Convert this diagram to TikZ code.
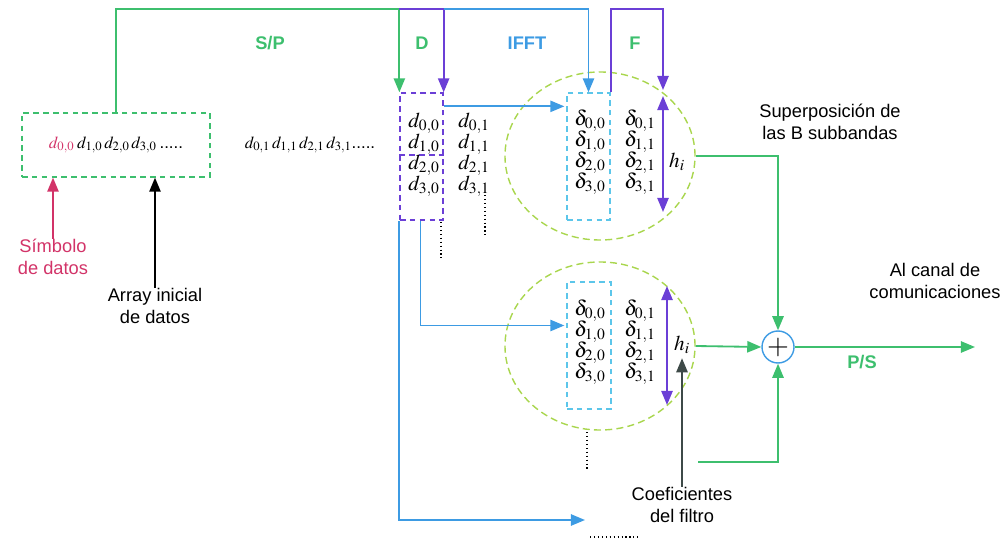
\documentclass[tikz,border=0pt]{standalone}
\usepackage{mathptmx}
\usepackage{fontspec}
\setmainfont{Liberation Sans}
\usetikzlibrary{arrows.meta, positioning, shapes.geometric, calc}

\definecolor{spgreen}{HTML}{3DBF6E}
\definecolor{dpurple}{HTML}{6B3FD6}
\definecolor{ifftblue}{HTML}{3D9BE3}
\definecolor{boxcyan}{HTML}{5CC6EA}
\definecolor{ringlime}{HTML}{A9D64E}
\definecolor{symred}{HTML}{D23368}
\definecolor{coefgray}{HTML}{3E4A48}

\newcommand{\tightrows}{\lineskiplimit=-6pt\relax\lineskip=0pt\relax}

\tikzset{
  tip/.style={-{Triangle[length=10pt,width=8pt]}},
  twotip/.style={{Triangle[length=10pt,width=8pt]}-{Triangle[length=10pt,width=8pt]}},
  spline/.style={draw=spgreen, line width=1.3pt},
  dline/.style={draw=dpurple, line width=1.3pt},
  bline/.style={draw=ifftblue, line width=1.3pt},
  dashbox/.style={rectangle, inner sep=0pt, line width=0.9pt, dash pattern=on 4pt off 3pt},
  ring/.style={ellipse, draw=ringlime, line width=1pt, dash pattern=on 5pt off 3pt,
    minimum width=4.75cm, minimum height=4.2cm, inner sep=0pt},
  col/.style={align=center, inner sep=0pt, font=\fontsize{15}{15}\selectfont\tightrows},
  lbl/.style={align=center, inner sep=0pt, font=\fontsize{13}{16}\selectfont},
  stage/.style={inner sep=0pt, font=\fontsize{13}{16}\selectfont\bfseries},
  dots/.style={draw=black, line width=0.8pt, dotted},
}

\begin{document}
\begin{tikzpicture}[x=0.025cm, y=-0.025cm]
  \useasboundingbox (0,0) rectangle (1003,543);
  \coordinate (top) at (0,9);

  % input arrays
  \node[dashbox, draw=spgreen, minimum width=4.7cm, minimum height=1.6cm] (ini) at (116,145) {};
  \node[inner sep=0pt, font=\fontsize{12}{14}\selectfont] (seq0) at (ini.center)
    {\textcolor{symred}{$d_{0,0}$}\,$d_{1,0}\,d_{2,0}\,d_{3,0}$\,.....};
  \node[inner sep=0pt, font=\fontsize{12}{14}\selectfont] (seq1) at (310,145)
    {$d_{0,1}\,d_{1,1}\,d_{2,1}\,d_{3,1}$.....};

  % D block
  \node[dashbox, draw=dpurple, minimum width=1.075cm, minimum height=3.175cm] (dbx) at (421.5,156.5) {};
  \draw[dpurple, line width=0.9pt, dash pattern=on 4pt off 3pt] (dbx.west |- 0,155) -- (dbx.east |- 0,155);
  \node[col] (dc0) at (424,155) {$d_{0,0}$\\$d_{1,0}$\\$d_{2,0}$\\$d_{3,0}$};
  \node[col] (dc1) at (474,155) {$d_{0,1}$\\$d_{1,1}$\\$d_{2,1}$\\$d_{3,1}$};

  % subbands
  \node[ring] (rup) at (600,156) {};
  \node[ring] (rdn) at (600,346) {};
  \node[dashbox, draw=boxcyan, minimum width=1.075cm, minimum height=3.175cm] (fup) at (588.5,156.5) {};
  \node[dashbox, draw=boxcyan, minimum width=1.1cm, minimum height=3.175cm] (fdn) at (589,345.5) {};
  \node[col] (fu0) at (590,152) {$\delta_{0,0}$\\$\delta_{1,0}$\\$\delta_{2,0}$\\$\delta_{3,0}$};
  \node[col] (fu1) at (640,152) {$\delta_{0,1}$\\$\delta_{1,1}$\\$\delta_{2,1}$\\$\delta_{3,1}$};
  \node[col] (fd0) at (590,342) {$\delta_{0,0}$\\$\delta_{1,0}$\\$\delta_{2,0}$\\$\delta_{3,0}$};
  \node[col] (fd1) at (640,342) {$\delta_{0,1}$\\$\delta_{1,1}$\\$\delta_{2,1}$\\$\delta_{3,1}$};
  \node[col] (hup) at (677,162) {$h_i$};
  \node[col] (hdn) at (682,345) {$h_i$};
  \coordinate (fin) at (663,90);
  \coordinate (hu1) at (663,96);
  \coordinate (hu2) at (663,212);
  \coordinate (hd1) at (667,286);
  \coordinate (hd2) at (667,405);

  % summation
  \node[circle, draw=ifftblue, line width=1pt, minimum size=0.8cm, inner sep=0pt,
    font=\fontsize{20}{20}\selectfont] (sum) at (778,347) {$+$};
  \coordinate (out) at (975,347);
  \coordinate (bot) at (698,462);
  \coordinate (lowb) at (585,520);

  % labels
  \node[stage, text=spgreen] (lsp) at (270,43) {S/P};
  \node[stage, text=spgreen] (ld) at (422,43) {D};
  \node[stage, text=ifftblue] (lifft) at (527,43) {IFFT};
  \node[stage, text=spgreen] (lf) at (635,43) {F};
  \node[stage, text=spgreen] (lps) at (862,362) {P/S};
  \node[lbl] (sup) at (830,122) {Superposición de\\las B subbandas};
  \node[lbl] (canal) at (935,281) {Al canal de\\comunicaciones};
  \node[lbl] (coef) at (682,505) {Coeficientes\\del filtro};
  \node[lbl, text=symred] (sym) at (53,257) {Símbolo\\de datos};
  \node[lbl] (arr) at (155,306) {Array inicial\\de datos};

  % connectors
  \draw[spline, tip] (ini.north) -- (ini.north |- top) -| (dbx.north west);
  \draw[dline, tip] (dbx.north west |- top) -| (dbx.north east);
  \draw[bline, tip] (dbx.north east |- top) -| (fup.north);
  \draw[bline, tip] ($(dbx.north east)+(0,14)$) -- ($(fup.west |- dbx.north)+(-2,14)$);
  \draw[dline, tip] (fup.north east) -- (fup.north east |- top) -| (fin);
  \draw[dline, twotip] (hu1) -- (hu2);
  \draw[dline, twotip] (hd1) -- (hd2);
  \draw[bline, tip] (dbx.south west) |- (lowb);
  \draw[bline, tip] ($(dbx.south)+(-1,0)$) |- ($(fdn.west)+(-2,-20)$);
  \draw[spline, tip] (rup.east) -| (sum.north);
  \draw[spline, tip] (rdn.east) -- (sum.west);
  \draw[spline, tip] (sum.east) -- (out);
  \draw[spline, tip] (bot) -| (sum.south);
  \draw[symred, line width=1.3pt, tip] (sym.north) -- (sym.north |- ini.south);
  \draw[black, line width=1.3pt, tip] (arr.north) -- (arr.north |- ini.south);
  \draw[coefgray, line width=1.3pt, tip] (coef.north) -- ($(coef.north |- hdn.south)+(0,4)$);

  % continuation dots
  \draw[dots] (441,222) -- (441,258);
  \draw[dots] (485,195) -- (485,238);
  \draw[dots] (587,432) -- (587,470);
  \draw[dots] (590,537) -- (640,537);
\end{tikzpicture}
\end{document}
